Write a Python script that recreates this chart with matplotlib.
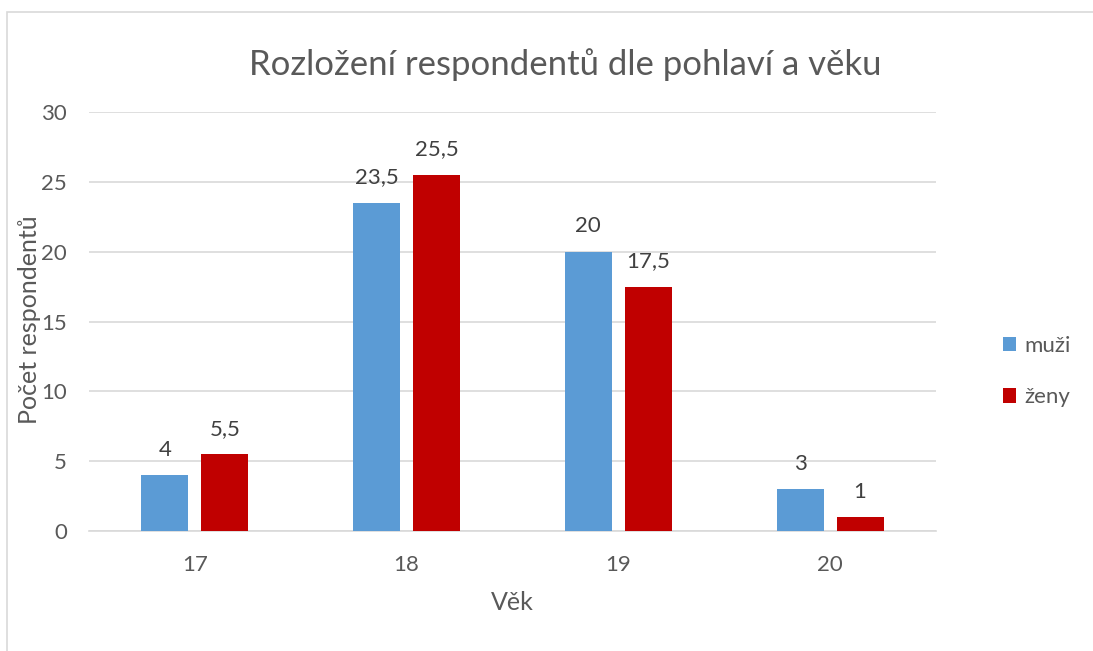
import matplotlib
matplotlib.use("Agg")
import numpy as np
import matplotlib.pyplot as plt
from matplotlib.patches import Rectangle

# data
ages = ["17", "18", "19", "20"]
muzi = [4, 23.5, 20, 3]
zeny = [5.5, 25.5, 17.5, 1]
series_names = ["muži", "ženy"]
y_ticks = [0, 5, 10, 15, 20, 25, 30]

BLUE = "#5B9BD5"
RED = "#C00000"
TEXT = "#595959"
GRID = "#D9D9D9"

plt.rcParams["font.family"] = ["Lato", "DejaVu Sans"]

W, H = 1093, 651
fig = plt.figure(figsize=(W / 100, H / 100), dpi=100)

# chart frame (cropped on right/bottom like the screenshot)
fig.patches.append(Rectangle((7 / W, -0.1), 1.2, 1 - 12 / H + 0.1,
                             transform=fig.transFigure, fill=False,
                             edgecolor="#D9D9D9", linewidth=1.2))

ax = fig.add_axes([89 / W, (H - 531) / H, (936 - 89) / W, (531 - 112) / H])

x = np.arange(len(ages))
w = 0.222
off = 0.1417
b1 = ax.bar(x - off, muzi, w, color=BLUE, label=series_names[0], zorder=3)
b2 = ax.bar(x + off, zeny, w, color=RED, label=series_names[1], zorder=3)


def fmt(v):
    s = f"{v:g}"
    return s.replace(".", ",")


for bars, vals in ((b1, muzi), (b2, zeny)):
    for rect, v in zip(bars, vals):
        ax.annotate(fmt(v), (rect.get_x() + rect.get_width() / 2, v),
                    xytext=(0, 11), textcoords="offset points",
                    ha="center", va="bottom", fontsize=16, color="#404040")

ax.set_xlim(-0.5, len(ages) - 0.5)
ax.set_ylim(0, 30)
ax.set_yticks(y_ticks)
ax.set_yticklabels([str(t) for t in y_ticks])
ax.set_xticks(x)
ax.set_xticklabels(ages)
ax.tick_params(axis="both", length=0, labelsize=16, labelcolor=TEXT)
ax.tick_params(axis="y", pad=16)
ax.tick_params(axis="x", pad=17)
ax.grid(axis="y", color=GRID, linewidth=1.2, zorder=0)
for s in ["top", "right", "left"]:
    ax.spines[s].set_visible(False)
ax.spines["bottom"].set_color(GRID)
ax.spines["bottom"].set_linewidth(1.2)

ax.set_xlabel("Věk", fontsize=18, color=TEXT, labelpad=12)
fig.text(30 / W, 1 - 320 / H, "Počet respondentů", rotation=90,
         ha="center", va="center", fontsize=18, color=TEXT)
fig.text(565 / W, 1 - 65 / H, "Rozložení respondentů dle pohlaví a věku",
         ha="center", va="center", fontsize=25, color=TEXT)

leg = ax.legend(loc="center left", bbox_to_anchor=(1.055, 0.38), frameon=False,
                fontsize=16, labelcolor=TEXT, handlelength=0.6, handleheight=0.6,
                handletextpad=0.4, labelspacing=1.4)

fig.savefig("out.png", dpi=100)
